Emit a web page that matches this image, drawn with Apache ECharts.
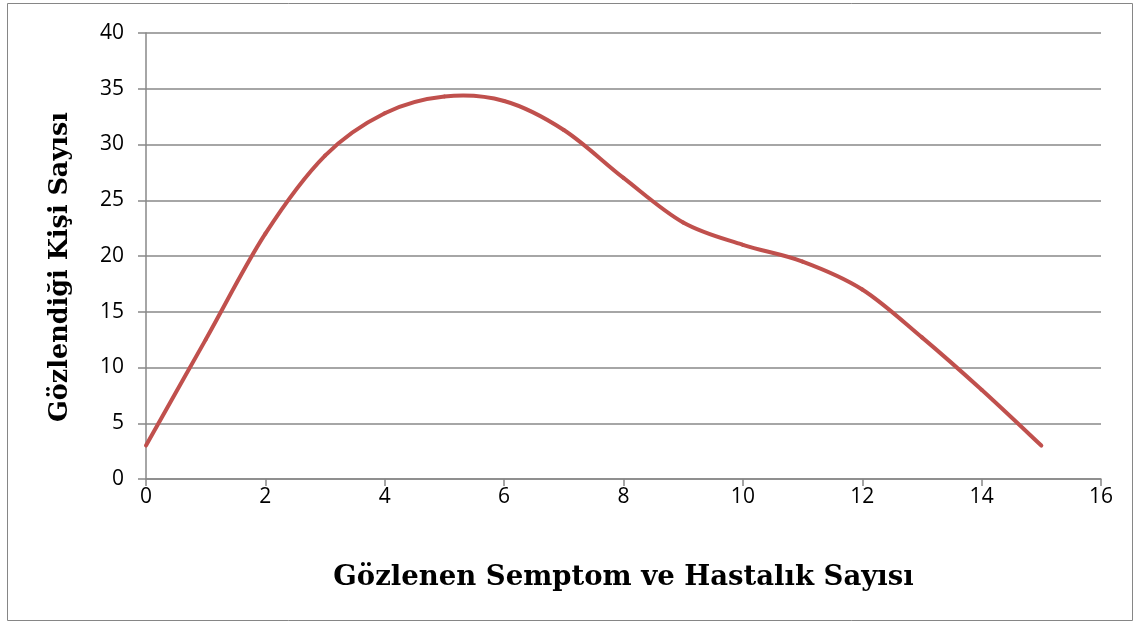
<!DOCTYPE html>
<html>
<head>
<meta charset="utf-8">
<script src="https://cdn.jsdelivr.net/npm/echarts@6/dist/echarts.min.js"></script>
<style>
  html, body { margin: 0; padding: 0; background: #fff; }
  #chart { width: 1138px; height: 626px; }
</style>
</head>
<body>
<div id="chart"></div>
<script>
// Number of observed symptoms/diseases (x) and number of people (y)
const symptomCounts = [0, 1, 2, 3, 4, 5, 6, 7, 8, 9, 10, 11, 12, 13, 14, 15];
const personCounts = [3, 12.5, 22, 29, 32.8, 34.3, 33.9, 31.3, 27, 23, 21, 19.5, 17, 12.7, 8, 3];
const xTicks = [0, 2, 4, 6, 8, 10, 12, 14, 16];
const yTicks = [0, 5, 10, 15, 20, 25, 30, 35, 40];

const xAxisTitle = 'Gözlenen Semptom ve Hastalık Sayısı';
const yAxisTitle = 'Gözlendiği Kişi Sayısı';

const points = symptomCounts.map((x, i) => [x, personCounts[i]]);

const gridColor = '#888888';
const lineColor = '#C0504D';
const labelFont = { color: '#000', fontFamily: 'Open Sans, Liberation Sans, sans-serif', fontSize: 21 };
const titleBase = { color: '#000', fontFamily: 'DejaVu Serif, serif', fontWeight: 'bold' };

// Each data item draws the cubic Bézier segment to the next point,
// with Catmull-Rom style tangents taken from its neighbours.
function renderSegment(params, api) {
  const i = params.dataIndex;
  const n = points.length;
  if (i >= n - 1) return null;
  const p = (k) => api.coord(points[Math.max(0, Math.min(n - 1, k))]);
  const p0 = p(i - 1), p1 = p(i), p2 = p(i + 1), p3 = p(i + 2);
  const t = 1 / 6;
  return {
    type: 'bezierCurve',
    shape: {
      x1: p1[0], y1: p1[1],
      cpx1: p1[0] + (p2[0] - p0[0]) * t, cpy1: p1[1] + (p2[1] - p0[1]) * t,
      cpx2: p2[0] - (p3[0] - p1[0]) * t, cpy2: p2[1] - (p3[1] - p1[1]) * t,
      x2: p2[0], y2: p2[1]
    },
    style: { stroke: lineColor, lineWidth: 4, fill: null, lineCap: 'round' },
    silent: true
  };
}

const chart = echarts.init(document.getElementById('chart'), null, { renderer: 'canvas' });
chart.setOption({
  animation: false,
  backgroundColor: '#fff',
  graphic: [{
    type: 'rect',
    shape: { x: 7.5, y: 3.5, width: 1125, height: 617 },
    style: { fill: 'none', stroke: '#868686', lineWidth: 1 },
    silent: true
  }],
  grid: { left: 146, right: 37, top: 33, bottom: 147 },
  xAxis: {
    type: 'value',
    min: xTicks[0],
    max: xTicks[xTicks.length - 1],
    interval: 2,
    name: xAxisTitle,
    nameLocation: 'middle',
    nameGap: 85,
    nameTextStyle: Object.assign({ fontSize: 27.5 }, titleBase),
    axisLine: { show: true, lineStyle: { color: gridColor, width: 1.5 } },
    axisTick: { show: true, inside: false, length: 7, lineStyle: { color: gridColor, width: 1.5 } },
    axisLabel: Object.assign({ margin: 8 }, labelFont),
    splitLine: { show: false }
  },
  yAxis: {
    type: 'value',
    min: yTicks[0],
    max: yTicks[yTicks.length - 1],
    interval: 5,
    name: yAxisTitle,
    nameLocation: 'middle',
    nameGap: 73,
    nameRotate: 90,
    nameTextStyle: Object.assign({ fontSize: 25.5, padding: [0, 22, 0, 0] }, titleBase),
    axisLine: { show: true, lineStyle: { color: gridColor, width: 1.5 } },
    axisTick: { show: true, inside: false, length: 8, lineStyle: { color: gridColor, width: 1.5 } },
    axisLabel: Object.assign({ margin: 22 }, labelFont),
    splitLine: { show: true, lineStyle: { color: gridColor, width: 1.5 } }
  },
  series: [{
    type: 'custom',
    coordinateSystem: 'cartesian2d',
    data: points,
    encode: { x: 0, y: 1 },
    clip: false,
    renderItem: renderSegment
  }]
});
</script>
</body>
</html>
